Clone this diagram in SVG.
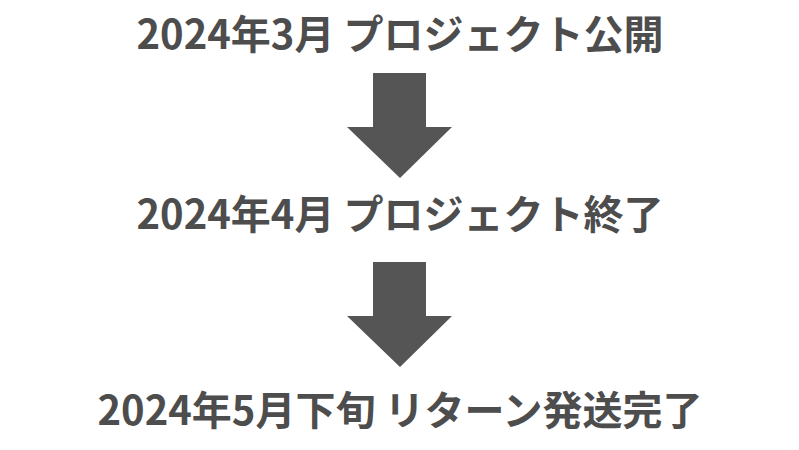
<svg xmlns="http://www.w3.org/2000/svg" width="799" height="450" viewBox="0 0 799 450">
<style>
.t{font-family:"Noto Sans CJK JP","Noto Sans",sans-serif;font-weight:bold;font-size:40px;fill:#4d4d4d;text-anchor:middle}
.a{fill:#555555}
</style>
<rect width="799" height="450" fill="#ffffff"/>
<g id="step1"><text class="t" x="400" y="49">2024年3月 プロジェクト公開</text></g>
<g id="step2"><text class="t" x="400" y="229">2024年4月 プロジェクト終了</text></g>
<g id="step3"><text class="t" x="400" y="425">2024年5月下旬 リターン発送完了</text></g>
<g id="connectors">
<polygon class="a" points="373,73 426,73 426,127 452,127 400,178 347,127 373,127"/>
<polygon class="a" points="373,262 426,262 426,316 452,316 400,367 347,316 373,316"/>
</g>
</svg>
